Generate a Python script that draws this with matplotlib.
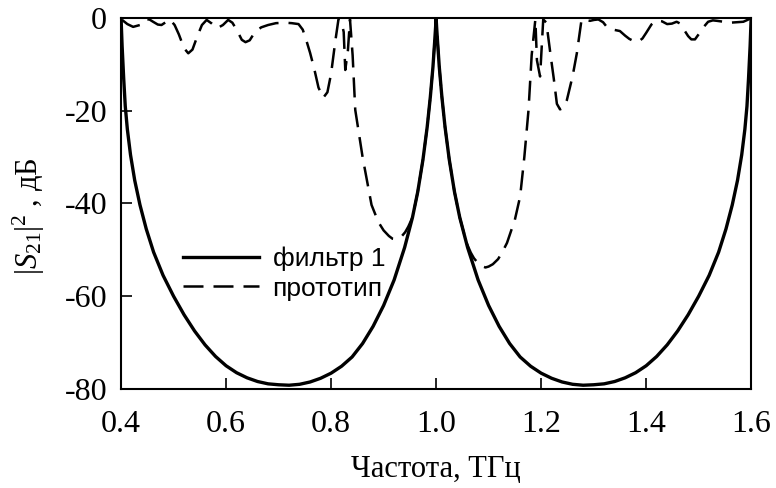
import matplotlib
matplotlib.use("Agg")
import matplotlib.pyplot as plt
from matplotlib import font_manager as fm

# ---- data ----
f_filter = [0.400, 0.402, 0.405, 0.408, 0.412, 0.418, 0.426, 0.436, 0.448, 0.462, 0.480,
            0.500, 0.520, 0.540, 0.560, 0.580, 0.600, 0.620, 0.640, 0.660, 0.680, 0.700,
            0.720, 0.740, 0.760, 0.780, 0.800, 0.820, 0.840, 0.860, 0.880, 0.900, 0.920,
            0.940, 0.955, 0.965, 0.975, 0.983, 0.989, 0.994, 0.997, 0.999, 1.000,
            1.001, 1.003, 1.006, 1.011, 1.017, 1.025, 1.035, 1.045, 1.060, 1.080, 1.100,
            1.120, 1.140, 1.160, 1.180, 1.200, 1.220, 1.240, 1.260, 1.280, 1.300, 1.320,
            1.340, 1.360, 1.380, 1.400, 1.420, 1.440, 1.460, 1.480, 1.500, 1.520, 1.538,
            1.552, 1.564, 1.574, 1.582, 1.588, 1.592, 1.595, 1.598, 1.600]
s_filter = [0.0, -6.0, -13.0, -19.0, -24.0, -29.5, -35.0, -40.3, -45.5, -50.5, -55.5,
            -60.0, -64.0, -67.5, -70.5, -73.0, -75.0, -76.5, -77.6, -78.4, -78.9, -79.1,
            -79.2, -79.0, -78.5, -77.7, -76.6, -75.1, -73.1, -70.2, -66.5, -62.0, -56.5,
            -49.5, -43.0, -37.5, -30.5, -23.5, -17.0, -10.5, -5.5, -2.0, 0.0,
            -2.0, -5.5, -10.5, -17.0, -23.5, -30.5, -37.5, -43.0, -49.5, -56.5, -62.0,
            -66.5, -70.2, -73.1, -75.1, -76.6, -77.7, -78.5, -79.0, -79.2, -79.1, -78.9,
            -78.4, -77.6, -76.5, -75.0, -73.0, -70.5, -67.5, -64.0, -60.0, -55.5, -50.5,
            -45.5, -40.3, -35.0, -29.5, -24.0, -19.0, -13.0, -6.0, 0.0]

f_proto = [0.402, 0.412, 0.423, 0.436, 0.446, 0.454, 0.461, 0.470, 0.477, 0.485, 0.493,
           0.502, 0.510, 0.520, 0.528, 0.536, 0.545, 0.554, 0.563, 0.573, 0.583, 0.594,
           0.604, 0.612, 0.620, 0.630, 0.637, 0.645, 0.655, 0.667, 0.680, 0.695, 0.712,
           0.725, 0.738, 0.746, 0.752, 0.760, 0.768, 0.776, 0.785, 0.793, 0.800, 0.808,
           0.814, 0.820, 0.824, 0.827, 0.832, 0.836, 0.841, 0.846, 0.860, 0.877, 0.890,
           0.900, 0.910, 0.917, 0.922, 0.928, 0.935, 0.941, 0.947, 0.955, 0.965, 0.975,
           0.983, 0.989, 0.994, 0.997, 0.999, 1.000, 1.001, 1.003, 1.006, 1.011, 1.017,
           1.025, 1.035, 1.045, 1.058, 1.066, 1.072, 1.080, 1.087, 1.094, 1.100, 1.108,
           1.118, 1.126, 1.135, 1.150, 1.160, 1.168, 1.176, 1.182, 1.189, 1.192, 1.198,
           1.204, 1.210, 1.218, 1.224, 1.230, 1.236, 1.242, 1.249, 1.260, 1.268, 1.277,
           1.285, 1.293, 1.301, 1.309, 1.318, 1.325, 1.337, 1.350, 1.360, 1.368, 1.377,
           1.385, 1.393, 1.400, 1.410, 1.420, 1.430, 1.440, 1.449, 1.458, 1.465, 1.472,
           1.480, 1.486, 1.493, 1.500, 1.509, 1.518, 1.527, 1.535, 1.548, 1.560, 1.573,
           1.585, 1.593, 1.600]
s_proto = [-0.4, -1.3, -1.9, -1.5, -0.3, -0.3, -0.8, -1.4, -1.5, -0.9, -0.3,
           -1.5, -3.5, -6.5, -7.6, -6.8, -4.0, -1.5, -0.4, -1.2, -2.2, -1.5,
           -0.4, -1.0, -2.5, -4.7, -5.2, -4.8, -3.0, -2.0, -1.5, -1.1, -1.0,
           -1.1, -1.3, -2.5, -4.5, -7.5, -11.0, -15.0, -17.2, -16.0, -12.0, -5.0,
           -0.3, -1.0, -3.0, -11.2, -7.0, -0.3, -8.0, -19.8, -30.0, -40.3, -44.0,
           -45.8, -47.0, -47.6, -47.7, -47.4, -47.0, -46.2, -45.0, -43.0, -37.5, -30.5,
           -23.5, -17.0, -10.5, -5.5, -2.0, 0.0, -2.0, -5.5, -10.5, -17.0, -23.5,
           -30.5, -37.5, -43.0, -48.5, -50.6, -51.8, -52.9, -53.5, -53.8, -53.6, -53.1,
           -52.0, -50.5, -48.5, -43.5, -38.5, -30.0, -19.8, -8.0, -0.3, -9.1, -12.6,
           -0.3, -1.0, -8.0, -13.0, -18.5, -19.7, -19.4, -17.7, -12.5, -7.6, -0.3,
           -0.4, -0.6, -0.4, -0.3, -0.9, -1.9, -2.5, -2.8, -3.8, -4.5, -5.0,
           -5.1, -4.4, -3.2, -1.4, -0.5, -0.7, -1.3, -1.2, -0.8, -1.2, -2.5,
           -3.9, -4.6, -4.6, -3.5, -2.0, -0.8, -0.5, -0.6, -0.8, -1.0, -0.9,
           -0.8, -0.4, 0.0]

x_ticks = [0.4, 0.6, 0.8, 1.0, 1.2, 1.4, 1.6]
x_tick_labels = ["0.4", "0.6", "0.8", "1.0", "1.2", "1.4", "1.6"]
y_ticks = [-80, -60, -40, -20, 0]
y_tick_labels = ["-80", "-60", "-40", "-20", "0"]

label_filter = "фильтр 1"
label_proto = "прототип"

plt.rcParams['mathtext.fontset'] = 'custom'
plt.rcParams['mathtext.rm'] = 'Liberation Serif'
plt.rcParams['mathtext.it'] = 'Liberation Serif:italic'

# pick the regular (non-narrow) Liberation Sans face for the legend
sans_path = None
for fe in fm.fontManager.ttflist:
    if fe.name == 'Liberation Sans' and fe.style == 'normal' and fe.weight in (400, 'normal', 'regular') \
            and 'Narrow' not in fe.fname and 'Bold' not in fe.fname:
        sans_path = fe.fname
        break
if sans_path:
    leg_prop = fm.FontProperties(fname=sans_path, size=19)
else:
    leg_prop = fm.FontProperties(family='DejaVu Sans', size=17)

fig = plt.figure(figsize=(7.76, 4.88), dpi=100)
ax = fig.add_axes([0.156, 0.203, 0.812, 0.760])

ax.plot(f_filter, s_filter, color='black', lw=2.4, solid_joinstyle='round',
        label=label_filter)
ax.plot(f_proto, s_proto, color='black', lw=1.8, dashes=(8, 4),
        label=label_proto)

ax.set_xlim(0.4, 1.6)
ax.set_ylim(-80, 0)
ax.set_xticks(x_ticks)
ax.set_xticklabels(x_tick_labels)
ax.set_yticks(y_ticks)
ax.set_yticklabels(y_tick_labels)
for lbl in ax.get_xticklabels() + ax.get_yticklabels():
    lbl.set_fontfamily('Liberation Serif')
    lbl.set_fontsize(23)
ax.tick_params(axis='x', direction='in', length=8, width=1.2, pad=15)
ax.tick_params(axis='y', direction='in', length=8, width=1.2, pad=10)
for sp in ax.spines.values():
    sp.set_linewidth(1.5)

ax.set_xlabel("Частота, ТГц", fontfamily='Liberation Serif', fontsize=22, labelpad=12)
ax.set_ylabel(r"$|S_{21}|^2$ , дБ", fontfamily='Liberation Serif', fontsize=22)
ax.yaxis.set_label_coords(-0.118, 0.465)

leg = ax.legend(loc='upper left', bbox_to_anchor=(0.098, 0.383), frameon=False,
                prop=leg_prop,
                handlelength=2.9, handletextpad=0.5, labelspacing=0.2,
                borderpad=0, borderaxespad=0)

fig.savefig("out.png", dpi=100)
